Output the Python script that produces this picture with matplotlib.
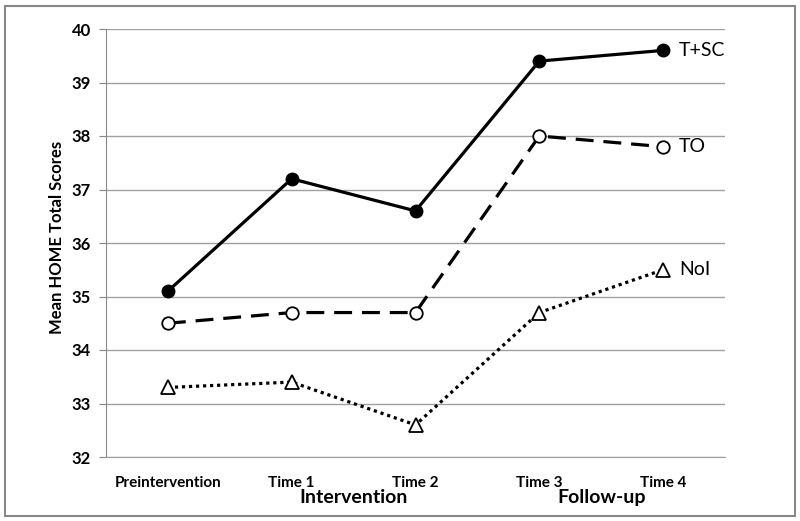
import matplotlib
matplotlib.use("Agg")
import matplotlib.pyplot as plt
from matplotlib.patches import Rectangle

categories = ["Preintervention", "Time 1", "Time 2", "Time 3", "Time 4"]
tsc = [35.1, 37.2, 36.6, 39.4, 39.6]
to = [34.5, 34.7, 34.7, 38.0, 37.8]
noi = [33.3, 33.4, 32.6, 34.7, 35.5]
series_names = ["T+SC", "TO", "NoI"]
yticks = [32, 33, 34, 35, 36, 37, 38, 39, 40]

plt.rcParams['font.family'] = ['Lato', 'DejaVu Sans']

fig = plt.figure(figsize=(8, 5.21), dpi=100)
ax = fig.add_axes([106/800, 1-457/521, (725-106)/800, (457-29)/521])

x = list(range(len(categories)))
ax.plot(x, tsc, color='black', lw=2.3, ls='-', marker='o', ms=9,
        mfc='black', mec='black', zorder=3)
ax.plot(x, to, color='black', lw=2.3, ls=(0, (5.6, 3.1)), marker='o', ms=9,
        mfc='white', mec='black', mew=1.3, zorder=3)
ax.plot(x, noi, color='black', lw=2.3, ls=(0, (1, 1.2)), marker='^', ms=10,
        mfc='white', mec='black', mew=1.3, zorder=3)

for vals, name in zip([tsc, to, noi], series_names):
    ax.text(x[-1] + 0.13, vals[-1], name, fontsize=14, va='center', ha='left')

ax.set_xlim(-0.5, 4.5)
ax.set_ylim(32, 40)
ax.set_yticks(yticks)
ax.set_yticklabels([str(v) for v in yticks], fontsize=12, fontweight='bold')
ax.set_xticks(x)
ax.set_xticklabels(categories, fontsize=11, fontweight='bold')
ax.tick_params(axis='x', length=0, pad=14)
ax.tick_params(axis='y', length=5, color='#888888', pad=6)
ax.grid(axis='y', color='#a0a0a0', lw=1)
ax.set_axisbelow(True)
for s in ['top', 'right']:
    ax.spines[s].set_visible(False)
ax.spines['left'].set_color('#888888')
ax.spines['bottom'].set_color('#a0a0a0')
ax.set_ylabel("Mean HOME Total Scores", fontsize=12, fontweight='bold')
ax.yaxis.set_label_coords(-0.066, 0.514)

ax.text(1.5, -0.095, "Intervention", transform=ax.get_xaxis_transform(),
        fontsize=14, fontweight='bold', ha='center', va='center')
ax.text(3.5, -0.095, "Follow-up", transform=ax.get_xaxis_transform(),
        fontsize=14, fontweight='bold', ha='center', va='center')

fig.patches.append(Rectangle((5/800, 5/521), 790/800, 510/521, transform=fig.transFigure,
                             fill=False, edgecolor='#888888', lw=1.5))

fig.savefig("out.png", dpi=100)
